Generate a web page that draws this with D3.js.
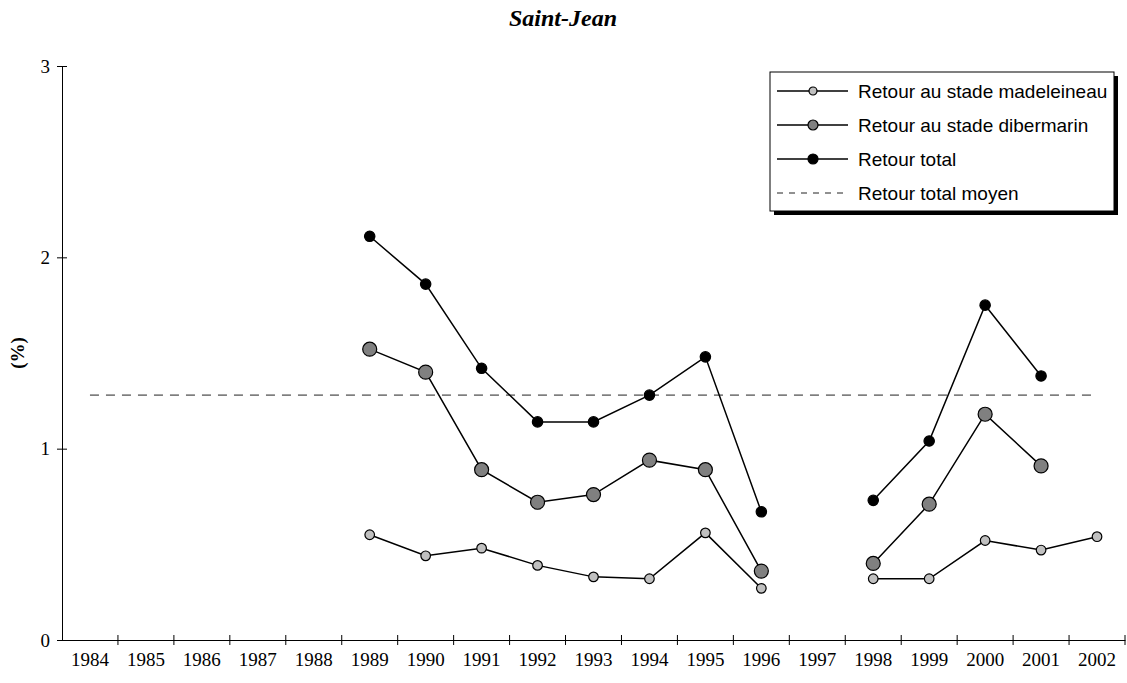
<!DOCTYPE html>
<html>
<head>
<meta charset="utf-8">
<script src="https://cdn.jsdelivr.net/npm/d3@7"></script>
<style>
    body { margin: 0; background: #fff; }
    svg { display: block; }
</style>
</head>
<body>
<div id="chart"></div>
<script>
// Saint-Jean returns chart
const years = ["1984", "1985", "1986", "1987", "1988", "1989", "1990", "1991", "1992", "1993",
    "1994", "1995", "1996", "1997", "1998", "1999", "2000", "2001", "2002"];

// values in %, null = no data
const madeleineau = [null, null, null, null, null, 0.55, 0.44, 0.48, 0.39, 0.33,
    0.32, 0.56, 0.27, null, 0.32, 0.32, 0.52, 0.47, 0.54];
const dibermarin = [null, null, null, null, null, 1.52, 1.40, 0.89, 0.72, 0.76,
    0.94, 0.89, 0.36, null, 0.40, 0.71, 1.18, 0.91, null];
const total = [null, null, null, null, null, 2.11, 1.86, 1.42, 1.14, 1.14,
    1.28, 1.48, 0.67, null, 0.73, 1.04, 1.75, 1.38, null];
const totalMean = 1.28;

const yTicks = [0, 1, 2, 3];

const seriesNames = ["Retour au stade madeleineau", "Retour au stade dibermarin", "Retour total", "Retour total moyen"];

const width = 1127, height = 683;
const margin = { left: 62, right: 2, top: 66, bottom: 43 };

const svg = d3.select("#chart").append("svg")
    .attr("width", width)
    .attr("height", height);

const x = d3.scaleBand()
    .domain(years)
    .range([margin.left, width - margin.right])
    .padding(0);

const y = d3.scaleLinear()
    .domain([0, 3])
    .range([height - margin.bottom, margin.top]);

const cx = yr => x(yr) + x.bandwidth() / 2;

// title
svg.append("text")
    .attr("x", 563)
    .attr("y", 26)
    .attr("text-anchor", "middle")
    .style("font-family", "'Liberation Serif', 'Times New Roman', serif")
    .style("font-weight", "bold")
    .style("font-style", "italic")
    .style("font-size", "24px")
    .text("Saint-Jean");

// y axis
const yAxis = svg.append("g")
    .attr("transform", `translate(${margin.left},0)`)
    .call(d3.axisLeft(y).tickValues(yTicks).tickFormat(d3.format("d")).tickSizeInner(5).tickSizeOuter(0).tickPadding(7));
yAxis.selectAll(".tick line").attr("x2", 5).attr("x1", -5);

// x axis, ticks on category borders
const xAxis = svg.append("g")
    .attr("transform", `translate(0,${y(0)})`)
    .call(d3.axisBottom(x).tickSize(0).tickPadding(13));
xAxis.selectAll(".tick text").attr("dy", "0.71em");

const borders = years.map(d => x(d) + x.bandwidth());
xAxis.selectAll(".border")
    .data(borders)
    .enter()
    .append("line")
    .attr("class", "border")
    .attr("x1", d => d).attr("x2", d => d)
    .attr("y1", -5).attr("y2", 5)
    .attr("stroke", "#000");

svg.selectAll(".domain").attr("stroke", "#000");
svg.selectAll(".tick line").attr("stroke", "#000");
svg.selectAll(".tick text")
    .style("font-family", "'Liberation Serif', 'Times New Roman', serif")
    .style("font-size", "19px")
    .attr("fill", "#000");

// y label
svg.append("text")
    .attr("transform", `translate(24,${(y(0) + y(3)) / 2}) rotate(-90)`)
    .attr("text-anchor", "middle")
    .style("font-family", "'Liberation Serif', 'Times New Roman', serif")
    .style("font-weight", "bold")
    .style("font-size", "19px")
    .text("(%)");

// mean line
svg.append("line")
    .attr("x1", cx(years[0]))
    .attr("x2", cx(years[years.length - 1]))
    .attr("y1", y(totalMean))
    .attr("y2", y(totalMean))
    .attr("stroke", "#222")
    .attr("stroke-width", 1)
    .attr("stroke-dasharray", "9,7");

const series = [
    { values: madeleineau, fill: "#c0c0c0", r: 4.8 },
    { values: dibermarin, fill: "#808080", r: 7 },
    { values: total, fill: "#000", r: 5.2 }
];

const line = d3.line()
    .defined(d => d.v !== null)
    .x(d => cx(d.yr))
    .y(d => y(d.v));

series.forEach(s => {
    const pts = years.map((yr, i) => ({ yr: yr, v: s.values[i] }));
    svg.append("path")
        .datum(pts)
        .attr("d", line)
        .attr("fill", "none")
        .attr("stroke", "#000")
        .attr("stroke-width", 1.5);
    svg.append("g").selectAll("circle")
        .data(pts.filter(d => d.v !== null))
        .enter()
        .append("circle")
        .attr("cx", d => cx(d.yr))
        .attr("cy", d => y(d.v))
        .attr("r", s.r)
        .attr("fill", s.fill)
        .attr("stroke", "#000")
        .attr("stroke-width", 1.2);
});

// legend
const lg = svg.append("g").attr("transform", "translate(770,72)");
const lgW = 344, lgH = 139;
lg.append("rect").attr("x", 4).attr("y", 4).attr("width", lgW).attr("height", lgH).attr("fill", "#000");
lg.append("rect").attr("width", lgW).attr("height", lgH).attr("fill", "#fff").attr("stroke", "#000");

const rowY = [19, 53, 87, 121];
seriesNames.forEach((name, i) => {
    const row = lg.append("g").attr("transform", `translate(0,${rowY[i]})`);
    const ln = row.append("line")
        .attr("x1", 7).attr("x2", 78)
        .attr("stroke", "#000");
    if (i < 3) {
        ln.attr("stroke-width", 1.5);
        row.append("circle")
            .attr("cx", 43)
            .attr("r", [4, 5, 5][i])
            .attr("fill", series[i].fill)
            .attr("stroke", "#000")
            .attr("stroke-width", 1.2);
    } else {
        ln.attr("stroke", "#222").attr("stroke-dasharray", "6,6");
    }
    row.append("text")
        .attr("x", 88)
        .attr("dy", "0.35em")
        .style("font-family", "'Liberation Sans', Arial, sans-serif")
        .style("font-size", "19px")
        .text(name);
});
</script>
</body>
</html>
